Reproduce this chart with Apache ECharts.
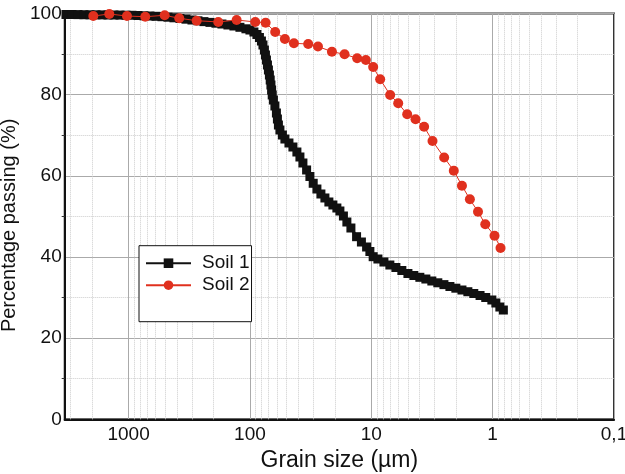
<!DOCTYPE html>
<html>
<head>
<meta charset="utf-8">
<script src="https://cdn.jsdelivr.net/npm/echarts@6/dist/echarts.min.js"></script>
<style>
html,body{margin:0;padding:0;background:#fff;}
#chart{width:625px;height:474px;}
</style>
</head>
<body>
<div id="chart"></div>
<script>
// Soil 1: grain size (µm) and percentage passing
const soil1Size = [3280, 2926, 2611, 2331, 2080, 1856, 1656, 1478, 1319, 1177,
  1050, 937.6, 836.7, 746.6, 666.3, 594.6, 530.6, 473.6, 422.7, 377.2,
  336.6, 300.4, 268.1, 239.3, 213.5, 190.6, 170.1, 151.8, 135.5, 120.9,
  107.9, 100,
  92.7, 87.6, 83.5, 80.4, 78.1, 76.0, 74.5, 73.1, 71.7, 70.4,
  69.1, 68.06, 67.14, 66.27, 65.51, 64.04, 62.25, 60.50, 59.37, 58.25,
  56.62, 54.0, 51.5, 47.7, 44.23, 41.02, 38.73, 36.59, 34.12, 32.05,
  30.10, 28.06, 26.01, 24.11, 22.36, 20.72, 19.21, 18.14, 16.97, 15.89,
  14.72, 13.22, 12.06, 10.93, 10.27, 9.65,
  8.82, 7.87, 7.03, 6.27, 5.60, 4.99, 4.46, 3.98, 3.55, 3.17,
  2.83, 2.52, 2.25, 2.01, 1.79, 1.60, 1.43, 1.27, 1.14, 1.015,
  0.941, 0.872, 0.816];
const soil1Pass = [99.75, 99.75, 99.73, 99.70, 99.68, 99.68, 99.66, 99.63, 99.63, 99.61,
  99.58, 99.56, 99.51, 99.43, 99.38, 99.31, 99.21, 99.09, 98.94, 98.77,
  98.60, 98.40, 98.20, 98.00, 97.81, 97.61, 97.41, 97.17, 96.92, 96.60,
  96.23, 95.93,
  95.44, 94.82, 94.09, 93.22, 92.24, 91.00, 89.77, 88.54, 87.31, 86.08,
  84.84, 83.61, 82.38, 81.15, 79.92, 78.68, 77.21, 75.48, 74.00, 72.52,
  71.29, 70.06, 69.07, 68.09, 67.10, 65.87, 64.64, 63.16, 61.44, 59.84,
  58.16, 56.75, 55.52, 54.54, 53.55, 52.81, 52.07, 51.33, 50.10, 48.62,
  47.14, 45.00, 43.69, 42.46, 41.35, 40.07,
  39.50, 38.76, 38.02, 37.41, 36.67, 35.93, 35.44, 34.99, 34.57, 34.08,
  33.64, 33.19, 32.73, 32.31, 31.86, 31.44, 31.00, 30.51, 30.01, 29.40,
  28.66, 27.67, 26.93];

// Soil 2
const soil2Size = [1953, 1442, 1031, 728.7, 504.2, 382.3, 274.8, 182.4, 128.7, 90.4,
  74.25, 61.9, 51.5, 43.4, 33.1, 27.5, 21.1, 16.6, 13.07, 11.08,
  9.65, 8.45, 6.99, 6.0, 5.06, 4.32, 3.67, 3.13, 2.51, 2.09,
  1.79, 1.54, 1.32, 1.15, 0.965, 0.861];
const soil2Pass = [99.38, 99.88, 99.38, 99.21, 99.56, 98.82, 98.23, 97.91, 98.4, 97.91,
  97.73, 95.44, 93.72, 92.66, 92.48, 91.87, 90.59, 89.95, 88.96, 88.54,
  86.82, 83.79, 79.92, 77.87, 75.16, 73.93, 72.1, 68.58, 64.51, 61.26,
  57.57, 54.21, 51.16, 48.05, 45.24, 42.21];

// Axis ticks
const xTickValues = [1000, 100, 10, 1, 0.1];
const xTickLabels = ['1000', '100', '10', '1', '0,1'];
const xMinorGrid = [0.2, 0.3, 0.4, 0.5, 0.6, 0.7, 0.8, 0.9,
  2, 3, 4, 5, 6, 7, 8, 9,
  20, 30, 40, 50, 60, 70, 80, 90,
  200, 300, 400, 500, 600, 700, 800, 900,
  2000, 3000];
const xMin = 0.1, xMax = 3360;
const yTickLabels = ['0', '20', '40', '60', '80', '100'];

const FONT = "'Liberation Sans', Arial, Helvetica, sans-serif";

const pairs = (xs, ys) => xs.map((x, i) => [x, ys[i]]);

const chart = echarts.init(document.getElementById('chart'), null, {renderer: 'canvas'});
chart.setOption({
  animation: false,
  backgroundColor: '#fff',
  textStyle: {fontFamily: FONT},
  grid: {
    left: 64.7, right: 11, top: 13.5, bottom: 54.7,
    outerBoundsMode: 'none', containLabel: false,
    show: true, borderColor: '#333', borderWidth: 2, backgroundColor: 'transparent'
  },
  legend: {
    orient: 'vertical',
    left: 139, top: 245.7,
    padding: [8, 2, 27, 6],
    itemWidth: 45, itemHeight: 12, itemGap: 3,
    backgroundColor: '#fff',
    borderColor: '#111', borderWidth: 1, borderRadius: 0,
    textStyle: {fontFamily: FONT, fontSize: 19, color: '#111', padding: [0, 0, 0, 6]},
    data: ['Soil 1', 'Soil 2']
  },
  xAxis: {
    type: 'log', logBase: 10, inverse: true,
    min: xMin, max: xMax,
    name: 'Grain size (µm)', nameLocation: 'middle', nameGap: 30,
    nameTextStyle: {fontFamily: FONT, fontSize: 23, color: '#111'},
    axisLine: {show: true, lineStyle: {color: '#111', width: 2}},
    axisTick: {show: false},
    axisLabel: {
      fontFamily: FONT, fontSize: 19, color: '#111', margin: 6,
      showMinLabel: true, showMaxLabel: true,
      formatter: function (v) {
        for (let i = 0; i < xTickValues.length; i++) {
          if (Math.abs(Math.log10(v) - Math.log10(xTickValues[i])) < 1e-6) return xTickLabels[i];
        }
        return '';
      }
    },
    splitLine: {show: true, lineStyle: {color: '#aaaaaa', width: 1, type: 'solid'}}
  },
  yAxis: {
    type: 'value', min: 0, max: 100, interval: 20,
    name: 'Percentage passing (%)', nameLocation: 'middle', nameGap: 40,
    nameTextStyle: {fontFamily: FONT, fontSize: 20, color: '#111', padding: [0, 18, 0, 0]},
    axisLine: {show: true, lineStyle: {color: '#111', width: 2}},
    axisTick: {show: false},
    minorTick: {show: true, splitNumber: 2, length: 3, lineStyle: {color: '#333'}},
    minorSplitLine: {show: true, lineStyle: {color: '#cccccc', type: 'dotted', width: 1}},
    axisLabel: {
      fontFamily: FONT, fontSize: 19, color: '#111', margin: 3,
      formatter: function (v) { return yTickLabels[Math.round(v / 20)]; }
    },
    splitLine: {show: true, lineStyle: {color: '#aaaaaa', width: 1}}
  },
  series: [
    {
      name: 'Soil 1', type: 'line',
      data: pairs(soil1Size, soil1Pass),
      symbol: 'rect', symbolSize: 9,
      itemStyle: {color: '#111'},
      lineStyle: {color: '#111', width: 3},
      z: 3,
      markLine: {
        silent: true, symbol: ['none', 'none'], z: 1,
        label: {show: false},
        lineStyle: {color: '#cccccc', type: 'dotted', width: 1},
        emphasis: {disabled: true},
        data: xMinorGrid.map(v => ({xAxis: v}))
      }
    },
    {
      name: 'Soil 2', type: 'line',
      data: pairs(soil2Size, soil2Pass),
      symbol: 'circle', symbolSize: 10,
      itemStyle: {color: '#e0301e'},
      lineStyle: {color: '#e0301e', width: 1},
      z: 4
    }
  ]
});
</script>
</body>
</html>
